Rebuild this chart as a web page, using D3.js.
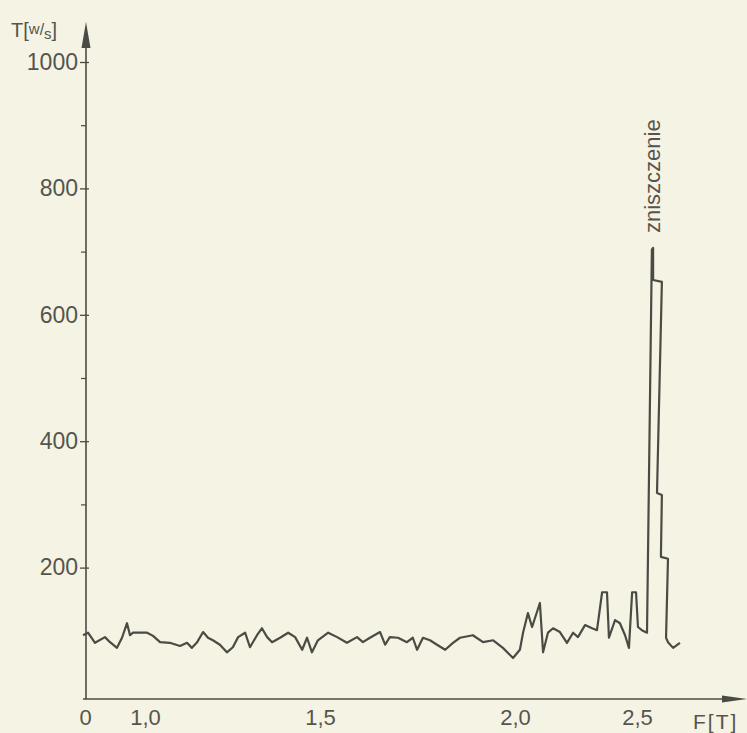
<!DOCTYPE html>
<html>
<head>
<meta charset="utf-8">
<script src="https://cdn.jsdelivr.net/npm/d3@7"></script>
<style>
  html, body { margin: 0; padding: 0; background: #f5f3e3; }
  svg { display: block; }
  text { font-family: "Liberation Sans", Arial, sans-serif; fill: #55554f; }
</style>
</head>
<body>
<svg id="chart" width="747" height="733"></svg>
<script>
// load F (x) and torque T (y)
const F_VALUES = [
  -0.033, 0.05, 0.167, 0.333, 0.417, 0.533, 0.617, 0.70, 0.75, 0.80, 0.867,
  1.006, 1.023, 1.043, 1.071, 1.10, 1.12, 1.134, 1.149, 1.166, 1.18, 1.194,
  1.214, 1.234, 1.251, 1.266, 1.286, 1.30, 1.32, 1.334, 1.349, 1.363, 1.386,
  1.409, 1.429, 1.449, 1.463, 1.477, 1.494, 1.521, 1.544, 1.569, 1.595, 1.61,
  1.628, 1.654, 1.667, 1.679, 1.70, 1.723, 1.738, 1.749, 1.764, 1.782, 1.80,
  1.821, 1.841, 1.859, 1.892, 1.918, 1.944, 1.969, 1.995, 2.02, 2.033, 2.053,
  2.07, 2.102, 2.115, 2.135, 2.156, 2.184, 2.213, 2.238, 2.258, 2.287, 2.316,
  2.336, 2.357, 2.377, 2.385, 2.41, 2.43, 2.451, 2.467, 2.48, 2.496, 2.504,
  2.52, 2.541, 2.561, 2.566, 2.566, 2.602, 2.582, 2.602, 2.598, 2.627, 2.619,
  2.627, 2.648, 2.676
];
const T_VALUES = [
  93, 97, 81, 90, 82, 73, 89, 112, 93, 97, 97,
  97, 92, 82, 81, 76, 81, 73, 82, 98, 89, 85,
  78, 66, 74, 90, 97, 74, 93, 104, 90, 82, 89,
  97, 90, 70, 89, 66, 85, 97, 90, 81, 90, 82,
  89, 98, 78, 90, 89, 82, 89, 70, 89, 85, 78,
  70, 81, 89, 93, 82, 85, 73, 57, 70, 97, 128,
  106, 144, 66, 97, 104, 98, 81, 97, 90, 109, 104,
  101, 161, 161, 89, 117, 112, 93, 73, 161, 161, 106,
  101, 97, 703, 706, 655, 652, 318, 315, 217, 214, 89,
  82, 73, 81
];

// hand-drawn axis: tick labels are not evenly spaced
const X_TICKS = [0, 1.0, 1.5, 2.0, 2.5];
const X_TICK_PX = [85, 145, 320, 515, 637];
const Y_TICKS = [200, 400, 600, 800, 1000];
const Y_MINOR = [300, 500, 700, 900];

const svg = d3.select("#chart");
const ink = "#4b4b45";

const x = d3.scaleLinear().domain(X_TICKS).range(X_TICK_PX);
const y = d3.scaleLinear().domain([0, 1000]).range([694, 62]);

const axisX = 86, axisY = 699;

// y axis
const gy = svg.append("g").attr("transform", `translate(${axisX},0)`)
    .call(d3.axisLeft(y).tickValues(Y_TICKS).tickSize(6).tickPadding(2)
      .tickFormat(d3.format("d")));
gy.select(".domain").remove();
gy.selectAll(".tick line").attr("x1", 3).attr("stroke", ink).attr("stroke-width", 1.3);
gy.selectAll(".tick text").attr("font-size", 23).attr("fill", "#55554f")
    .attr("font-family", "Liberation Sans, Arial, sans-serif");

const gm = svg.append("g").attr("transform", `translate(${axisX},0)`)
    .call(d3.axisLeft(y).tickValues(Y_MINOR).tickSize(5).tickFormat(""));
gm.select(".domain").remove();
gm.selectAll(".tick line").attr("stroke", ink).attr("stroke-width", 1.2);

svg.append("line")
    .attr("x1", axisX).attr("x2", axisX)
    .attr("y1", axisY).attr("y2", 40)
    .attr("stroke", ink).attr("stroke-width", 1.6);
svg.append("path")
    .attr("d", `M${axisX},22 L${axisX + 4.5},48 L${axisX - 4.5},48 Z`)
    .attr("fill", ink);

// y label T[w/s]
const ty = svg.append("text").attr("x", 11).attr("y", 37).attr("font-size", 20);
ty.append("tspan").text("T[");
ty.append("tspan").attr("font-size", 15).attr("dy", -3).text("w");
ty.append("tspan").attr("font-size", 16).attr("dy", 1).text("/");
ty.append("tspan").attr("font-size", 15).attr("dy", 4).text("s");
ty.append("tspan").attr("dy", -2).text("]");

// x axis
const gx = svg.append("g").attr("transform", `translate(0,${axisY})`)
    .call(d3.axisBottom(x).tickValues(X_TICKS).tickSize(0).tickPadding(10)
      .tickFormat(d => d === 0 ? "0" : d3.format(".1f")(d).replace(".", ",")));
gx.select(".domain").remove();
gx.selectAll(".tick text").attr("font-size", 22).attr("fill", "#55554f")
    .attr("font-family", "Liberation Sans, Arial, sans-serif");

svg.append("line")
    .attr("x1", 83).attr("x2", 730)
    .attr("y1", axisY).attr("y2", axisY)
    .attr("stroke", ink).attr("stroke-width", 1.6);
svg.append("path")
    .attr("d", `M747,${axisY} L722,${axisY - 3.5} L722,${axisY + 3.5} Z`)
    .attr("fill", ink);

svg.append("text")
    .attr("x", 693).attr("y", 729)
    .attr("font-size", 21).attr("letter-spacing", 2)
    .text("F[T]");

// trace
const pts = F_VALUES.map((f, i) => [f, T_VALUES[i]]);
const line = d3.line().x(d => x(d[0])).y(d => y(d[1]));
svg.append("path")
    .attr("d", line(pts))
    .attr("fill", "none")
    .attr("stroke", ink)
    .attr("stroke-width", 2.2)
    .attr("stroke-linejoin", "round");

// failure annotation above the peak
svg.append("text")
    .attr("transform", `translate(660,233) rotate(-90)`)
    .attr("font-size", 22)
    .text("zniszczenie");
</script>
</body>
</html>
